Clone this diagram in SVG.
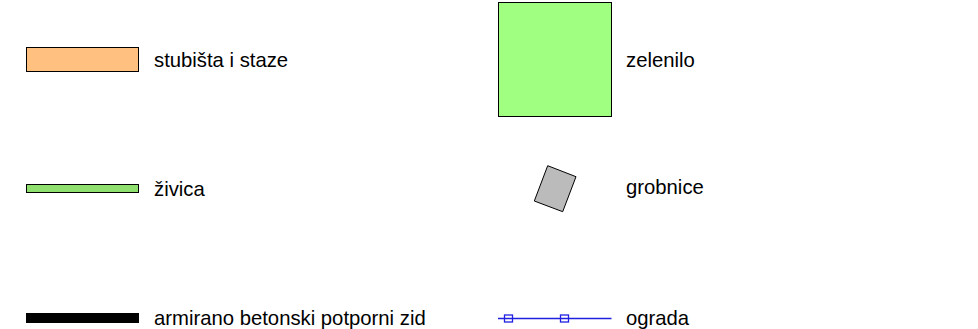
<svg xmlns="http://www.w3.org/2000/svg" width="978" height="329" viewBox="0 0 978 329">
<style>
text{font-family:"Liberation Sans",Arial,sans-serif;font-size:20.3px;fill:#000}
.sw{stroke:#000;stroke-width:1}
.fence{stroke:#2020e0;stroke-width:1.3;fill:none}
</style>
<rect width="978" height="329" fill="#fff"/>
<g id="stubista">
<rect class="sw" x="26.5" y="47.5" width="112" height="24" fill="#ffc080"/>
<text x="154" y="67">stubišta i staze</text>
</g>
<g id="zivica">
<rect class="sw" x="26.5" y="184.5" width="112" height="8" fill="#90e070"/>
<text x="154" y="196">živica</text>
</g>
<g id="zid">
<rect x="26" y="313" width="113" height="10" fill="#000"/>
<text x="154" y="325">armirano betonski potporni zid</text>
</g>
<g id="zelenilo">
<rect class="sw" x="498.5" y="2.5" width="113" height="114" fill="#a0ff80"/>
<text x="626" y="67">zelenilo</text>
</g>
<g id="grobnice">
<polygon class="sw" points="547.7,165.7 576,176.7 562.7,211.7 534.3,201" fill="#bbbbbb"/>
<text x="626" y="194">grobnice</text>
</g>
<g id="ograda">
<line class="fence" x1="498" y1="318.5" x2="611.5" y2="318.5"/>
<rect class="fence" x="504.5" y="315" width="8" height="7"/>
<rect class="fence" x="560.5" y="315" width="8" height="7"/>
<text x="626" y="325">ograda</text>
</g>
</svg>
